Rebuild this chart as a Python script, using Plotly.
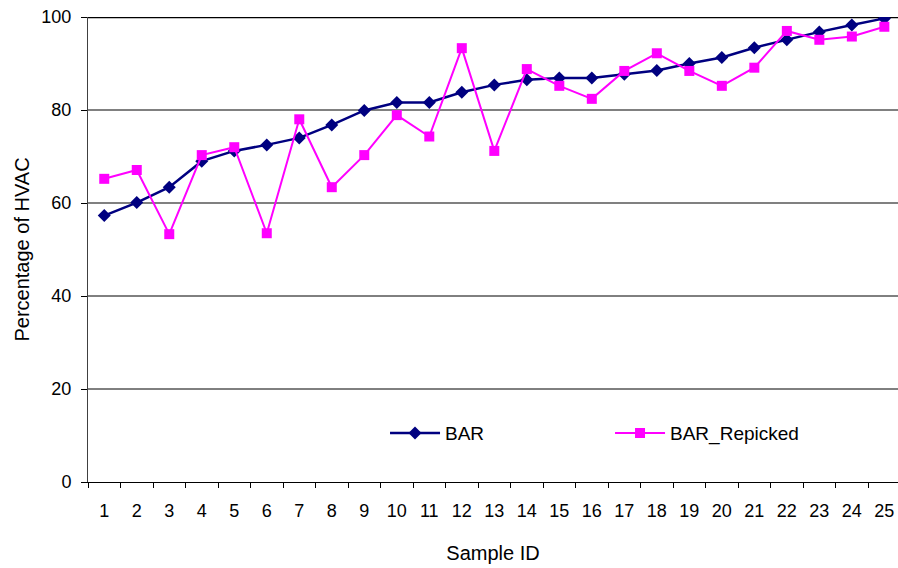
import plotly.graph_objects as go

# Sample identifiers along the horizontal axis
sample_ids = [str(i) for i in range(1, 26)]

# Percentage of HVAC per sample
bar_values = [57.3, 60.1, 63.4, 69.0, 71.2, 72.5, 74.0, 76.8, 79.9, 81.6,
              81.6, 83.8, 85.4, 86.5, 86.9, 86.9, 87.7, 88.5, 90.0, 91.3,
              93.4, 95.1, 96.8, 98.3, 99.7]
bar_repicked_values = [65.2, 67.1, 53.3, 70.3, 72.0, 53.5, 78.0, 63.4, 70.3, 78.9,
                       74.3, 93.3, 71.2, 88.8, 85.2, 82.4, 88.4, 92.2, 88.4, 85.2,
                       89.1, 97.0, 95.1, 95.8, 97.9]

y_ticks = [0, 20, 40, 60, 80, 100]

# horizontal gridline styles: (color, width) per tick value
grid_styles = {20: ("#000000", 1), 40: ("#000000", 1),
               60: ("#808080", 2), 80: ("#808080", 2),
               100: ("#000000", 2.5)}

font_family = "Liberation Sans, Arial, sans-serif"

fig = go.Figure()

for v, (col, w) in grid_styles.items():
    fig.add_shape(type="line", xref="paper", x0=0, x1=1, yref="y", y0=v, y1=v,
                  line=dict(color=col, width=w), layer="below")

fig.add_trace(go.Scatter(
    x=sample_ids, y=bar_values, name="BAR", mode="lines+markers",
    line=dict(color="#000080", width=2.5),
    marker=dict(symbol="diamond", size=10, color="#000080"),
))
fig.add_trace(go.Scatter(
    x=sample_ids, y=bar_repicked_values, name="BAR_Repicked", mode="lines+markers",
    line=dict(color="#FF00FF", width=2),
    marker=dict(symbol="square", size=10, color="#FF00FF"),
))

fig.update_layout(
    width=898, height=568,
    margin=dict(l=88, r=0, t=17, b=86),
    paper_bgcolor="white", plot_bgcolor="white",
    font=dict(family=font_family, size=18, color="#000000"),
    showlegend=True,
    legend=dict(
        orientation="h", x=0.3667, y=0.105, xanchor="left", yanchor="middle",
        bgcolor="rgba(0,0,0,0)", font=dict(size=19),
        itemwidth=50, entrywidth=160, entrywidthmode="pixels",
    ),
    xaxis=dict(
        type="category", range=[-0.5, 24.42],
        tickson="boundaries", ticks="outside", ticklen=5, tickcolor="#000000",
        ticklabelstandoff=12,
        showline=True, linecolor="#000000", linewidth=1,
        showgrid=False, zeroline=False,
        tickfont=dict(size=18),
        title=dict(text="Sample ID", font=dict(size=20), standoff=26),
    ),
    yaxis=dict(
        range=[0, 100], tickvals=y_ticks,
        ticks="outside", ticklen=6, tickcolor="#000000",
        ticklabelstandoff=6,
        showline=True, linecolor="#404040", linewidth=1,
        showgrid=False, zeroline=False, tickfont=dict(size=18),
        title=dict(text="Percentage of HVAC", font=dict(size=20), standoff=6),
    ),
)

fig.write_html("out.html")
